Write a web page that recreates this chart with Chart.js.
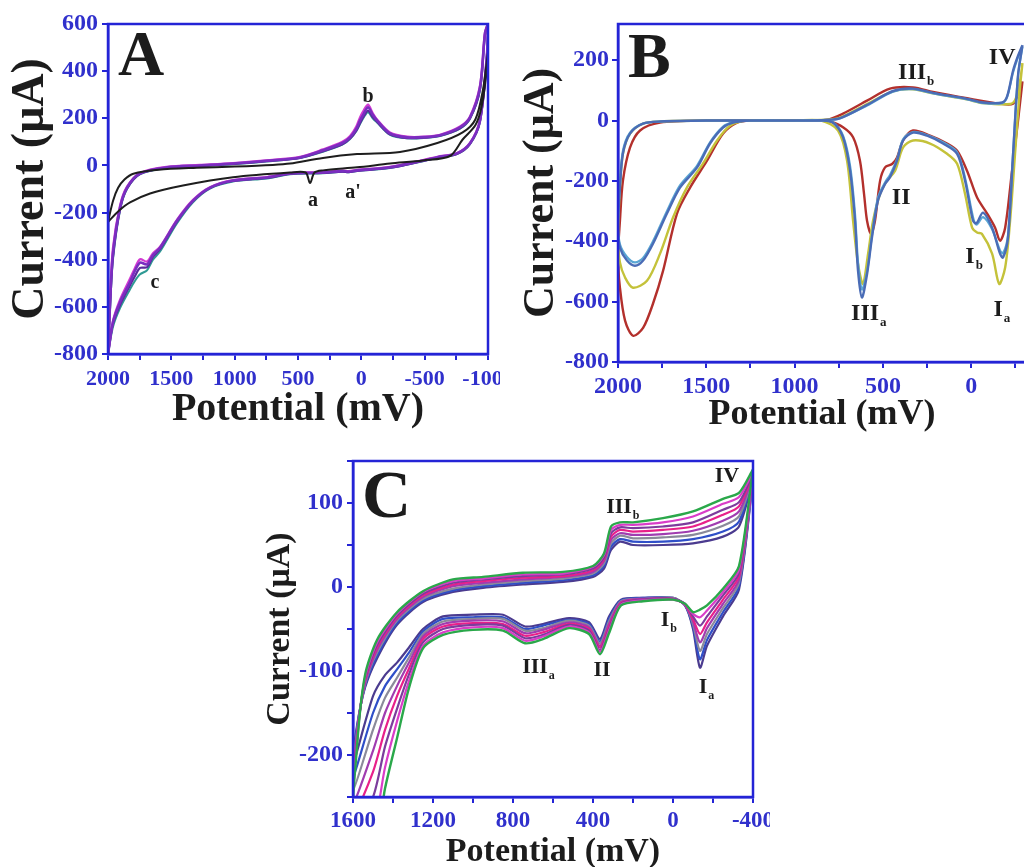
<!DOCTYPE html>
<html><head><meta charset="utf-8">
<script src="https://cdn.jsdelivr.net/npm/chart.js@4.4.1/dist/chart.umd.min.js"></script>
<style>
html,body{margin:0;padding:0;background:#fff;overflow:hidden;width:1024px;height:867px;position:relative;}
canvas{position:absolute;}
</style></head><body>
<canvas id="cA" width="500" height="434" style="left:0;top:0"></canvas>
<canvas id="cB" width="525" height="436" style="left:505px;top:0"></canvas>
<canvas id="cC" width="520" height="433" style="left:250px;top:440px"></canvas>
<script>
// ---------------- Panel A data (potential mV, current µA) ----------------
const potA = [2000,1984,1961,1905,1850,1747,1534,1274,1013,750,484,303,150,89,40,10,-20,-53,-90,-124,-226,-361,-500,-621,-779,-858,-937,-976,-1000,
  -992,-937,-858,-755,-600,-487,-226,34,100,150,303,563,745,1013,1195,1329,1455,1589,1645,1692,1747,1790,1826,1905,1961,2000];
const curAPurple = [-800,-587,-374,-179,-94,-34,-8,0,8,20,34,64,95,119,155,191,220,247,215,191,136,119,120,128,162,204,332,560,600,
  470,191,94,51,35,21,-8,-21,-26,-24,-30,-34,-51,-64,-94,-149,-234,-349,-380,-420,-412,-450,-495,-580,-665,-800];
const curAMagenta = [-800,-560,-350,-170,-90,-32,-6,2,10,22,37,68,100,125,165,205,235,258,222,195,140,122,122,130,165,208,340,565,600,
  472,195,96,53,37,23,-6,-19,-24,-22,-28,-32,-49,-62,-92,-146,-230,-345,-372,-408,-398,-438,-480,-570,-660,-800];
const curAViolet = [-800,-600,-390,-185,-98,-36,-10,-2,6,18,32,60,90,114,148,180,210,232,205,185,132,116,118,126,158,200,325,555,600,
  468,188,92,49,33,19,-10,-23,-28,-26,-32,-36,-53,-66,-96,-152,-238,-355,-388,-432,-435,-472,-508,-592,-672,-800];
const curATeal = [-800,-610,-400,-190,-100,-37,-11,-3,5,17,31,58,88,112,145,176,205,226,200,182,130,115,117,125,156,198,320,550,600,
  466,186,90,48,32,18,-11,-24,-29,-27,-33,-37,-55,-68,-98,-156,-245,-365,-400,-445,-462,-492,-525,-605,-685,-800];
const potABlack = [2000,1960,1920,1870,1800,1600,1300,1000,700,563,303,34,-305,-600,-800,-900,-960,-1000,-985,-950,-900,-800,-700,-487,-226,34,303,370,405,440,563,1013,1408,1668,1826,1920,2000];
const curABlack = [-240,-150,-95,-60,-35,-18,-10,-5,2,8,32,48,57,95,140,195,320,480,380,250,170,110,40,21,8,-8,-21,-30,-75,-30,-30,-50,-85,-119,-157,-195,-240];

// ---------------- Panel B data ----------------
const potBBlue = [-290,-265,-237,-203,-175,-67,24,216,330,443,590,743,816,1000,1500,1760,1858,1932,1972,1989,2000,
  1989,1949,1904,1858,1802,1723,1649,1553,1479,1405,1349,1253,1000,850,782,726,686,658,641,619,590,562,528,488,460,420,386,330,250,160,80,35,-10,-30,-67,-118,-163,-180,-208,-237,-265,-290];
const curBBlue = [250,215,166,80,60,60,72,92,106,98,52,8,2,0,0,-3,-10,-43,-109,-222,-355,
  -421,-464,-481,-464,-408,-308,-222,-156,-76,-23,-7,0,0,0,-7,-55,-166,-332,-498,-586,-509,-387,-265,-210,-188,-133,-66,-40,-50,-76,-110,-199,-332,-340,-305,-355,-441,-454,-388,-110,150,250];
const curBCyan = [245,210,160,78,58,58,70,90,104,96,50,7,2,0,0,-3,-10,-40,-100,-210,-340,
  -410,-452,-470,-455,-400,-300,-215,-150,-72,-20,-6,0,0,0,-6,-50,-150,-310,-470,-560,-500,-380,-255,-205,-180,-128,-62,-38,-48,-72,-105,-190,-320,-345,-320,-360,-430,-440,-380,-105,150,245];
const potBYellow = [-290,-276,-250,-220,-67,24,216,330,443,590,743,816,1000,1500,1760,1858,1932,1972,1989,2000,
  1989,1960,1915,1836,1762,1689,1610,1519,1439,1366,1270,1000,850,754,703,669,641,613,584,556,516,477,431,386,330,233,137,80,35,-5,-33,-60,-118,-158,-192,-220,-248,-276,-290];
const curBYellow = [190,130,70,55,58,70,90,104,97,55,10,3,0,0,-3,-10,-43,-109,-222,-388,
  -470,-520,-554,-531,-441,-322,-222,-143,-66,-17,0,0,0,-33,-133,-332,-475,-541,-441,-332,-243,-199,-166,-89,-66,-76,-110,-143,-243,-355,-371,-375,-441,-541,-487,-332,-110,110,190];
const potBRed = [-290,-265,-237,-163,24,216,330,460,590,726,816,1000,1500,1762,1875,1932,1972,1989,2000,
  1989,1960,1915,1858,1802,1745,1666,1592,1496,1405,1326,1250,1000,850,800,726,669,630,607,590,567,545,516,488,448,420,386,330,233,137,80,24,-33,-90,-135,-163,-192,-231,-265,-290];
const curBRed = [130,90,56,56,74,95,110,106,66,23,3,0,0,-7,-33,-90,-199,-332,-450,
  -554,-663,-713,-687,-607,-498,-308,-222,-133,-43,-7,0,0,0,-3,-22,-55,-133,-243,-332,-376,-332,-199,-155,-144,-122,-66,-33,-50,-76,-100,-166,-255,-308,-355,-398,-355,-166,0,130];
const tickPotB = [2000,1750,1500,1250,1000,750,500,250,0,-250];

// ---------------- Panel C data (cycles, inner -> outer) ----------------
const potC = [-400,-330,-250,-100,50,200,265,310,345,400,550,750,950,1100,1250,1380,1480,1540,1580,1605,
  1500,1440,1380,1320,1250,1150,1000,850,740,650,520,420,365,320,260,150,0,-60,-100,-135,-170,-250,-330,-400];
const curC0 = [128,72,60,52,50,50,54,44,22,12,6,3,-1,-6,-18,-45,-85,-120,-165,-215,
  -130,-105,-90,-72,-50,-35,-33,-33,-47,-44,-37,-42,-62,-35,-15,-13,-13,-22,-50,-96,-70,-35,-3,128];
const curC1 = [130,78,66,57,54,54,57,48,25,14,8,5,1,-4,-16,-43,-82,-118,-168,-230,
  -150,-118,-98,-78,-53,-38,-36,-36,-50,-46,-39,-44,-65,-38,-16,-13,-13,-22,-47,-86,-63,-30,1,130];
const curC2 = [131,84,73,62,59,58,61,52,28,16,10,7,3,-2,-14,-40,-78,-116,-172,-245,
  -170,-132,-108,-84,-56,-41,-38,-38,-52,-49,-40,-46,-67,-41,-17,-14,-13,-21,-44,-76,-56,-25,5,131];
const curC3 = [132,90,79,67,63,62,64,56,31,18,12,9,5,1,-12,-38,-75,-114,-175,-260,
  -195,-150,-118,-90,-59,-44,-40,-41,-55,-51,-42,-48,-70,-44,-18,-14,-14,-21,-41,-66,-49,-20,9,132];
const curC4 = [134,96,86,72,68,66,68,60,33,20,13,11,7,3,-10,-36,-72,-112,-178,-275,
  -220,-170,-130,-97,-62,-47,-43,-44,-58,-54,-44,-50,-72,-47,-19,-15,-14,-21,-38,-56,-42,-15,13,134];
const curC5 = [135,101,92,77,72,70,71,64,35,22,15,13,9,5,-8,-34,-69,-110,-182,-290,
  -250,-190,-145,-104,-66,-50,-45,-46,-61,-57,-45,-52,-75,-50,-20,-15,-14,-20,-35,-46,-35,-10,17,135];
const curC6 = [137,107,99,84,77,74,74,68,38,24,16,15,10,7,-6,-32,-66,-108,-186,-305,
  -285,-215,-160,-112,-70,-54,-48,-49,-64,-59,-47,-54,-77,-52,-21,-16,-15,-20,-32,-36,-28,-6,21,137];
const curC7 = [140,112,105,90,82,77,77,72,40,25,18,17,12,9,-5,-30,-63,-105,-190,-320,
  -320,-240,-180,-120,-73,-57,-51,-52,-67,-62,-49,-56,-80,-55,-22,-17,-15,-20,-30,-27,-22,-2,25,140];

// ---------------- styling / helpers ----------------
const FAM = "'Liberation Serif','Times New Roman',serif";
Chart.defaults.font.family = FAM;
Chart.defaults.font.weight = 'bold';
const BLUE = '#2424d6';
const TICKC = '#3030cc';
const INK = '#1c1c1c';

function pts(xs, ys){ return xs.map((x,i)=>({x:x, y:ys[i]})); }
function ds(xs, ys, color, w, t){
  return {data: pts(xs, ys), showLine:true, borderColor:color, backgroundColor:color, borderWidth:w,
          pointRadius:0, tension:t, fill:false};
}
function xAxis(min,max,step,major,size,pad,tSize,h,tickList){
  const ax = {type:'linear', reverse:true, min:min, max:max,
    ticks:{stepSize:step, autoSkip:false, maxRotation:0, minRotation:0, padding:pad, color:TICKC,
      font:{size:size, weight:'bold'}, callback:(v)=> (v % major === 0 ? String(v) : '')},
    grid:{drawOnChartArea:false, drawTicks:true, tickLength:6, color:BLUE, lineWidth:2},
    border:{display:true, color:BLUE, width:2.5},
    title:{display:true, text:'Potential (mV)', color:INK, font:{size:tSize, weight:'bold'}, padding:{top:0,bottom:0}},
    afterFit:(s)=>{ s.height = h; s.paddingLeft = 0; s.paddingRight = 0; }};
  if (tickList) ax.afterBuildTicks = (s)=>{ s.ticks = tickList.map(v=>({value:v})); };
  return ax;
}
function yAxis(min,max,step,major,size,pad,tSize,tPad,w){
  return {type:'linear', min:min, max:max,
    ticks:{stepSize:step, padding:pad, color:TICKC, font:{size:size, weight:'bold'},
      callback:(v)=> (v % major === 0 ? String(v) : '')},
    grid:{drawOnChartArea:false, drawTicks:true, tickLength:6, color:BLUE, lineWidth:2},
    border:{display:true, color:BLUE, width:2.5},
    title:{display:true, text:'Current (\u03BCA)', color:INK, font:{size:tSize, weight:'bold'}, padding:{top:tPad,bottom:0}},
    afterFit:(s)=>{ s.width = w; s.paddingTop = 0; s.paddingBottom = 0; }};
}
function decor(letter, lsize, dx, dy, labels){
  return {id:'decor'+letter,
    afterDatasetsDraw(chart){
      const {ctx, chartArea:a, scales} = chart;
      ctx.save();
      ctx.strokeStyle = BLUE; ctx.lineWidth = 2.5;
      ctx.strokeRect(a.left, a.top, a.right-a.left, a.bottom-a.top);
      ctx.fillStyle = INK;
      ctx.font = 'bold '+lsize+'px '+FAM; ctx.textAlign='left'; ctx.textBaseline='alphabetic';
      ctx.fillText(letter, a.left+dx, a.top+dy);
      labels.forEach(l=>{
        const px = scales.x.getPixelForValue(l.x), py = scales.y.getPixelForValue(l.y);
        ctx.font = 'bold '+l.size+'px '+FAM; ctx.textAlign='center'; ctx.textBaseline='middle';
        ctx.fillText(l.text, px, py);
        if (l.sub){
          const w = ctx.measureText(l.text).width;
          ctx.font = 'bold '+Math.round(l.size*0.55)+'px '+FAM; ctx.textAlign='left';
          ctx.fillText(l.sub, px + w/2 + 1, py + l.size*0.38);
        }
      });
      ctx.restore();
    }};
}
function baseOpts(pad, xa, ya){
  return {responsive:false, maintainAspectRatio:false, animation:false, events:[],
    layout:{padding:pad},
    plugins:{legend:{display:false}, tooltip:{enabled:false}},
    scales:{x:xa, y:ya}};
}

// ---------------- Panel A ----------------
const notesA = [
  {text:'b', x:-53, y:289, size:20},
  {text:'a', x:382, y:-149, size:20},
  {text:"a'", x:66, y:-115, size:20},
  {text:'c', x:1629, y:-498, size:20}
];
new Chart(document.getElementById('cA'), {
  type:'scatter',
  data:{datasets:[
    ds(potABlack, curABlack, '#1e1e1e', 2, 0.3),
    ds(potA, curAPurple, '#7a2ec0', 2.6, 0.3),
    ds(potA, curAMagenta, '#d23ad2', 2.2, 0.3),
    ds(potA, curAViolet, '#5a2a9c', 2.2, 0.3),
    ds(potA, curATeal, '#2f9a94', 2, 0.3)
  ]},
  options: baseOpts({top:24, right:12, left:0, bottom:0},
    xAxis(-1000, 2000, 250, 500, 22, 6, 40, 80),
    yAxis(-800, 600, 100, 200, 24, 4, 46, 4, 108)),
  plugins:[decor('A', 64, 10, 51, notesA)]
});

// ---------------- Panel B ----------------
const notesB = [
  {text:'III', sub:'b', x:335, y:159, size:24},
  {text:'IV', x:-175, y:209, size:24},
  {text:'II', x:397, y:-255, size:24},
  {text:'III', sub:'a', x:601, y:-640, size:24},
  {text:'I', sub:'b', x:7, y:-451, size:24},
  {text:'I', sub:'a', x:-152, y:-627, size:24}
];
new Chart(document.getElementById('cB'), {
  type:'scatter',
  data:{datasets:[
    ds(potBBlue, curBBlue, '#4a6cb6', 2.4, 0.3),
    ds(potBBlue, curBCyan, '#5aa6d4', 2.2, 0.3),
    ds(potBYellow, curBYellow, '#c4c23a', 2.4, 0.3),
    ds(potBRed, curBRed, '#b3302c', 2.4, 0.3)
  ]},
  options: baseOpts({top:24, right:4, left:0, bottom:0},
    xAxis(-310, 2000, 250, 500, 24, 4, 36, 74, tickPotB),
    yAxis(-800, 320, 100, 200, 24, 3, 44, 10, 113)),
  plugins:[decor('B', 64, 10, 53, notesB)]
});

// ---------------- Panel C ----------------
const notesC = [
  {text:'III', sub:'b', x:270, y:95, size:22},
  {text:'IV', x:-270, y:132, size:22},
  {text:'II', x:355, y:-99, size:22},
  {text:'III', sub:'a', x:690, y:-96, size:22},
  {text:'I', sub:'b', x:40, y:-40, size:22},
  {text:'I', sub:'a', x:-150, y:-120, size:22}
];
new Chart(document.getElementById('cC'), {
  type:'scatter',
  data:{datasets:[
    ds(potC, curC7, '#2aa84a', 2.4, 0.25),
    ds(potC, curC6, '#d93cc8', 2.2, 0.25),
    ds(potC, curC5, '#7c3c9c', 2.2, 0.25),
    ds(potC, curC4, '#e8208a', 2.2, 0.25),
    ds(potC, curC3, '#a03cb0', 2.2, 0.25),
    ds(potC, curC2, '#8a8a9a', 2.2, 0.25),
    ds(potC, curC1, '#2f4fc8', 2.2, 0.25),
    ds(potC, curC0, '#4b3b8f', 2.2, 0.25)
  ]},
  options: baseOpts({top:21, right:17, left:0, bottom:0},
    xAxis(-400, 1600, 200, 400, 23, 4, 34, 76),
    yAxis(-250, 150, 50, 100, 24, 4, 34, 10, 103)),
  plugins:[decor('C', 68, 9, 56, notesC)]
});
</script>
</body></html>
